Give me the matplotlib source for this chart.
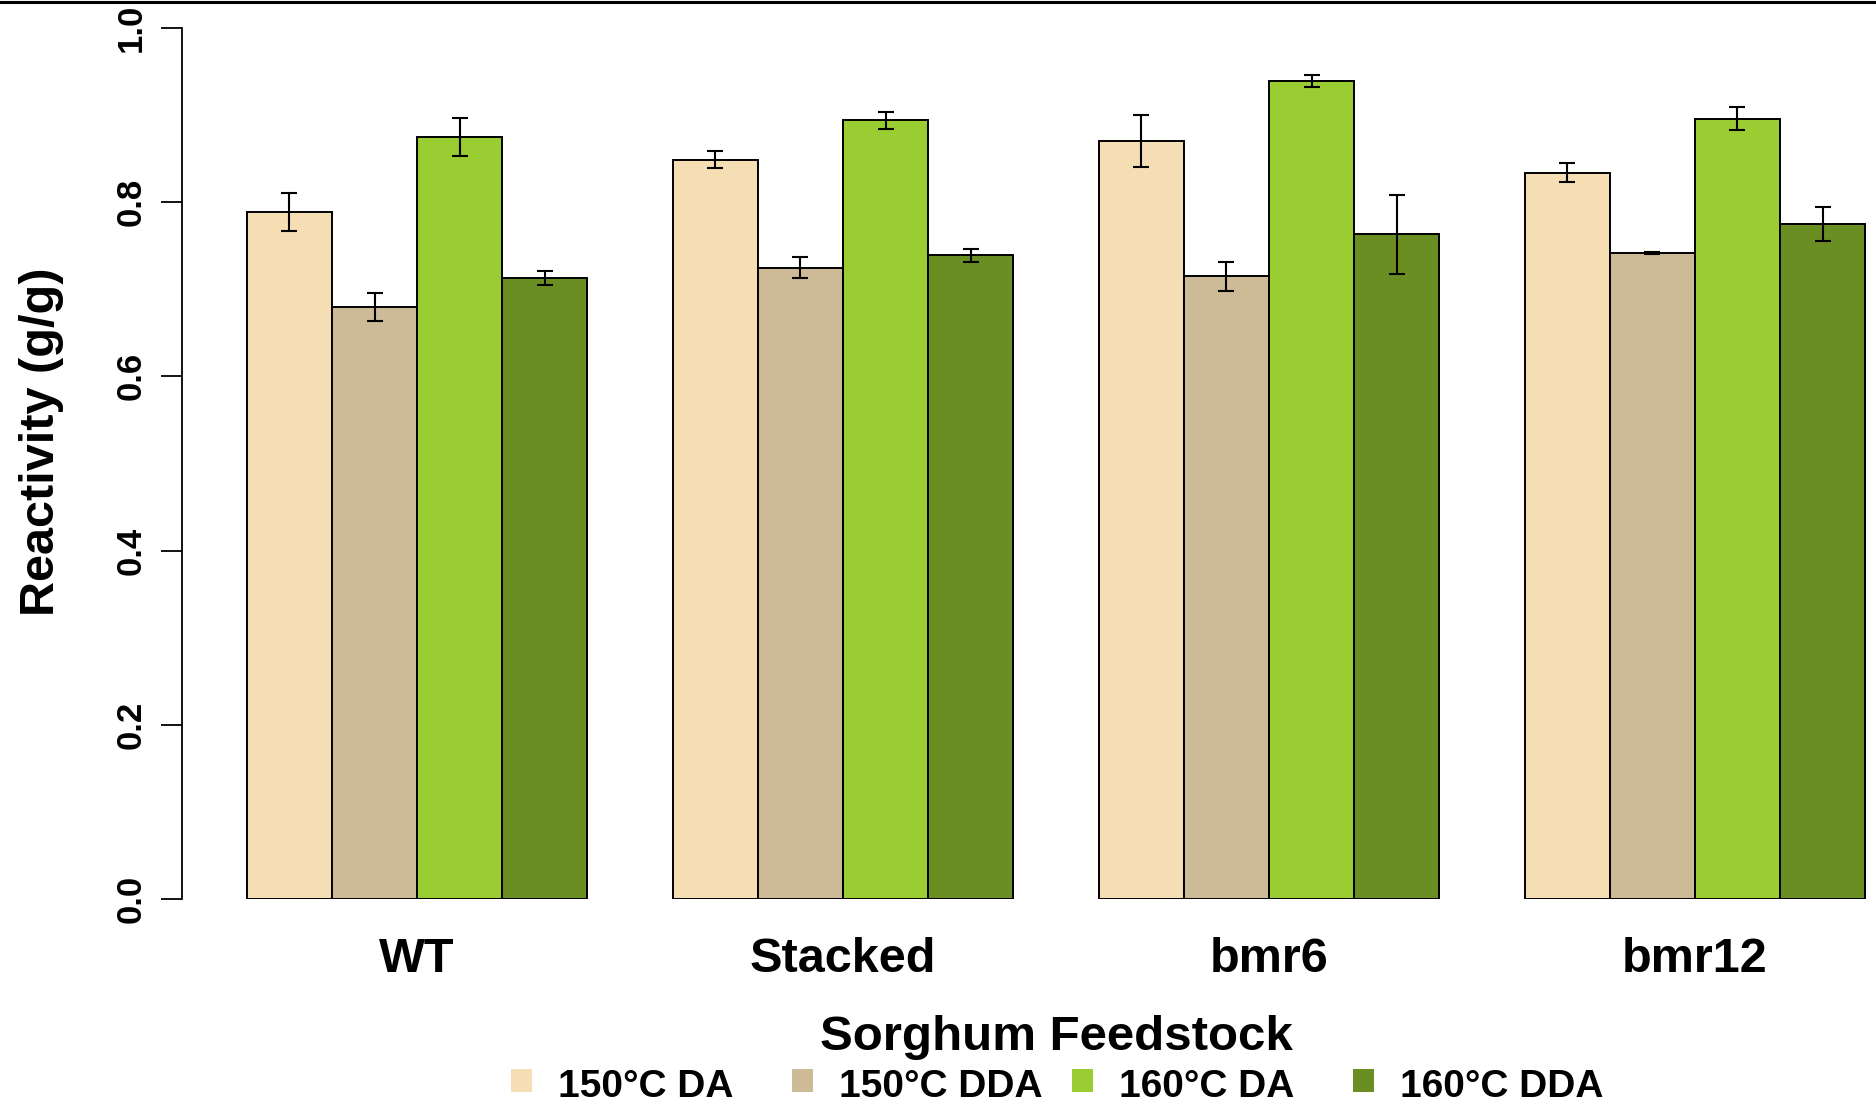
"""
Bar chart of sorghum feedstock reactivity under four pretreatment conditions.
"""

from __future__ import annotations

import matplotlib

matplotlib.use("Agg")

import matplotlib.pyplot as plt
import numpy as np
from matplotlib import font_manager
from matplotlib.lines import Line2D
from matplotlib.patches import Rectangle


FIG_W_PX = 1876
FIG_H_PX = 1102
DPI = 100

FEEDSTOCKS = ["WT", "Stacked", "bmr6", "bmr12"]
CONDITIONS = ["150°C DA", "150°C DDA", "160°C DA", "160°C DDA"]

# mean reactivity (g/g) per condition, one value per feedstock
DA_150 = [0.789, 0.849, 0.870, 0.834]
DDA_150 = [0.680, 0.725, 0.715, 0.742]
DA_160 = [0.875, 0.894, 0.939, 0.896]
DDA_160 = [0.713, 0.739, 0.763, 0.775]

# error bar half-heights
DA_150_ERR = [0.022, 0.0095, 0.030, 0.0105]
DDA_150_ERR = [0.016, 0.012, 0.0165, 0.001]
DA_160_ERR = [0.022, 0.0095, 0.007, 0.013]
DDA_160_ERR = [0.008, 0.0075, 0.045, 0.019]

Y_TICKS = [0.0, 0.2, 0.4, 0.6, 0.8, 1.0]

COLORS = ["#F5DEB3", "#CDBA96", "#9ACD32", "#6B8E23"]

BOLD = "Liberation Sans"


def fx(px: float) -> float:
    return px / FIG_W_PX


def fy(px: float) -> float:
    return 1 - px / FIG_H_PX


def narrow_font_available() -> bool:
    names = {f.name for f in font_manager.fontManager.ttflist}
    return "Liberation Sans Narrow" in names


def plot_bars(ax: plt.Axes) -> None:
    series = [DA_150, DDA_150, DA_160, DDA_160]
    errors = [DA_150_ERR, DDA_150_ERR, DA_160_ERR, DDA_160_ERR]
    group_start = np.arange(len(FEEDSTOCKS)) * 5 + 1

    for i, (values, err) in enumerate(zip(series, errors)):
        x = group_start + i + 0.5
        ax.bar(x, values, width=1.0, color=COLORS[i], edgecolor="black",
               linewidth=1.4, zorder=2)
        ax.errorbar(x, values, yerr=err, fmt="none", ecolor="black",
                    elinewidth=1.5, capsize=5.8, capthick=1.5, zorder=3)

    ax.set_xticks(group_start + 2)
    ax.set_xticklabels(FEEDSTOCKS, fontsize=35, fontweight="bold", family=BOLD)
    ax.tick_params(axis="x", length=0, pad=27)


def style_axes(ax: plt.Axes) -> None:
    ax.set_xlim(0.24, 20.76)
    ax.set_ylim(0, 1)

    for side in ["top", "right", "bottom"]:
        ax.spines[side].set_visible(False)
    ax.spines["left"].set_bounds(0, 1)
    ax.spines["left"].set_linewidth(1.3)

    if narrow_font_available():
        tick_family, tick_size = "Liberation Sans Narrow", 27
    else:
        tick_family, tick_size = BOLD, 25

    ax.set_yticks(Y_TICKS)
    ax.set_yticklabels([f"{v:.1f}" for v in Y_TICKS], rotation=90, va="center",
                       fontsize=tick_size, fontweight="bold", family=tick_family)
    ax.tick_params(axis="y", length=15, width=1.3, pad=10)


def draw_legend(fig: plt.Figure) -> None:
    start_px = 511
    step_px = 280.5
    for i, (label, color) in enumerate(zip(CONDITIONS, COLORS)):
        left = start_px + i * step_px
        fig.patches.append(Rectangle((fx(left), fy(1092)), fx(21), 23 / FIG_H_PX,
                                     transform=fig.transFigure, facecolor=color,
                                     edgecolor="none"))
        fig.text(fx(left + 47), fy(1097), label, ha="left", va="baseline",
                 fontsize=28, fontweight="bold", family=BOLD)


def main() -> None:
    fig = plt.figure(figsize=(FIG_W_PX / DPI, FIG_H_PX / DPI), dpi=DPI)
    ax = fig.add_axes([fx(182), fy(899), fx(1930) - fx(182), fy(28) - fy(899)])

    plot_bars(ax)
    style_axes(ax)

    fig.text(fx(42), fy(442), "Reactivity (g/g)", rotation=90, ha="center",
             va="center", fontsize=35, fontweight="bold", family=BOLD)
    fig.text(fx(1056), fy(1050), "Sorghum Feedstock", ha="center", va="baseline",
             fontsize=35.5, fontweight="bold", family=BOLD)

    draw_legend(fig)

    # frame line along the top edge of the image
    fig.lines.append(Line2D([0, 1], [fy(1.5), fy(1.5)], transform=fig.transFigure,
                            color="black", linewidth=2.2))

    fig.savefig("out.png", dpi=DPI)
    plt.close(fig)


if __name__ == "__main__":
    main()
